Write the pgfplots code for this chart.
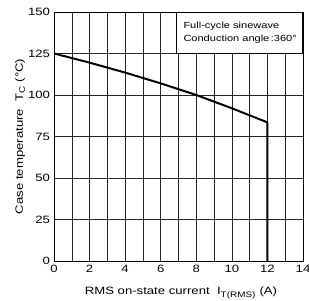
\documentclass[border=0pt]{standalone}
\usepackage{fontspec}
\setmainfont{Liberation Sans}[FakeStretch=1.24]
\usepackage{pgfplots}
\pgfplotsset{compat=1.18}
\begin{document}
\begin{tikzpicture}
\begin{axis}[
  scale only axis,
  width=249pt, height=249pt,
  xmin=0, xmax=14, ymin=0, ymax=150,
  xtick={0,2,...,14}, minor xtick={1,3,...,13},
  ytick={0,25,...,150},
  grid=both,
  major grid style={black!85, line width=0.55pt},
  minor grid style={black!85, line width=0.55pt},
  axis line style={black, line width=0.8pt},
  tick style={draw=none},
  tick label style={font=\fontsize{10.6}{12}\selectfont},
  label style={font=\fontsize{10.6}{12}\selectfont},
  /pgf/number format/assume math mode=true,
  xticklabel style={yshift=-1pt},
  yticklabel style={xshift=-0.5pt},
  xlabel={RMS on-state current\ \ I\textsubscript{\fontsize{8}{8}\selectfont T(RMS)} (A)},
  ylabel={Case temperature\ \ T\textsubscript{\fontsize{8}{8}\selectfont C} (°C)},
  xlabel style={at={(axis description cs:0.51,-0.1365)}, anchor=base},
  ylabel style={at={(axis description cs:-0.1245,0.5)}, anchor=base},
  clip=false,
]
\addplot[black, line width=2pt] coordinates {
 (0,125) (2,119.5) (4,113.5) (6,107) (8,100) (10,92) (12,83.5) (12,0)
};
\node[draw=black, fill=white, line width=0.7pt, anchor=north east,
      minimum width=126pt, minimum height=41pt, inner sep=0pt]
  (lbox) at (axis cs:14,150) {};
\node[anchor=west, align=left, inner sep=0pt,
      font=\fontsize{8.9}{13.6}\selectfont]
  at ([xshift=7pt]lbox.west) {Full-cycle sinewave\\Conduction angle\,:360°};
\end{axis}
\pgfresetboundingbox
\path[use as bounding box] ([shift={(-54pt,-40pt)}]current axis.south west) rectangle ([shift={(6pt,12pt)}]current axis.north east);
\end{tikzpicture}
\end{document}
